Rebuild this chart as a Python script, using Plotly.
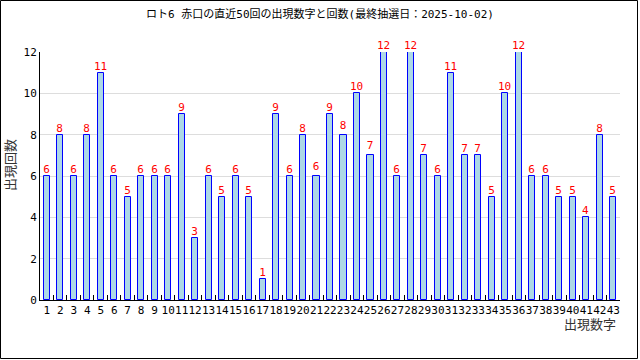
import plotly.graph_objects as go

numbers = [str(i) for i in range(1, 44)]
counts = [6, 8, 6, 8, 11, 6, 5, 6, 6, 6, 9, 3, 6, 5, 6, 5, 1, 9, 6, 8, 6, 9, 8, 10, 7,
          12, 6, 12, 7, 6, 11, 7, 7, 5, 10, 12, 6, 6, 5, 5, 4, 8, 5]
title_text = "ロト6 赤口の直近50回の出現数字と回数(最終抽選日：2025-10-02)"
x_title = "出現数字"
y_title = "出現回数"
y_ticks = [0, 2, 4, 6, 8, 10, 12]

FONT = "DejaVu Sans Mono, Noto Sans CJK JP, sans-serif"

fig = go.Figure(go.Bar(
    x=numbers, y=counts, width=0.45,
    marker=dict(color="#add8e6", line=dict(color="#0000ff", width=1)),
    text=[str(c) for c in counts], textposition="outside",
    textfont=dict(color="#ff0000", size=11, family=FONT),
    constraintext="none",
    cliponaxis=False,
    hoverinfo="skip",
))

W, H = 640, 360
L, R, T, B = 40, 20, 52, 60
pw, ph = W - L - R, H - T - B

fig.update_layout(
    width=W, height=H,
    margin=dict(l=L, r=R, t=T, b=B),
    paper_bgcolor="white", plot_bgcolor="white",
    showlegend=False,
    font=dict(family=FONT, size=11, color="black"),
    title=dict(text=title_text, x=0.5, xanchor="center", y=1 - 14 / H, yanchor="middle",
               font=dict(size=11, family=FONT, color="black")),
    xaxis=dict(type="category", tickson="boundaries", ticks="inside", ticklen=5,
               tickcolor="black", showline=True, linecolor="black", linewidth=1,
               showgrid=False, tickfont=dict(size=11), tickangle=0),
    yaxis=dict(range=[0, 12], tickvals=y_ticks, showline=True, linecolor="black",
               linewidth=1, showgrid=True, gridcolor="#dddddd", zeroline=False,
               ticks="", tickfont=dict(size=11)),
    bargap=0,
)

fig.add_annotation(text=x_title, xref="paper", yref="paper", x=(618 - L) / pw,
                   y=-(324 - (T + ph)) / ph, xanchor="right", yanchor="middle",
                   showarrow=False, font=dict(size=13, color="#333333", family=FONT))
fig.add_annotation(text=y_title, xref="paper", yref="paper", x=-(L - 10) / pw,
                   y=1 - (165 - T) / ph, xanchor="center", yanchor="middle",
                   textangle=-90, showarrow=False,
                   font=dict(size=13, color="#333333", family=FONT))

fig.add_shape(type="rect", xref="paper", yref="paper",
              x0=-(L - 0.5) / pw, x1=(637.5 - L) / pw,
              y0=-(358.5 - (T + ph)) / ph, y1=1 + (T - 0.5) / ph,
              line=dict(color="black", width=1), fillcolor="rgba(0,0,0,0)", layer="above")

fig.write_html("out.html", config={"displayModeBar": False},
               post_script="document.body.style.margin='0';document.body.style.overflow='hidden';")
